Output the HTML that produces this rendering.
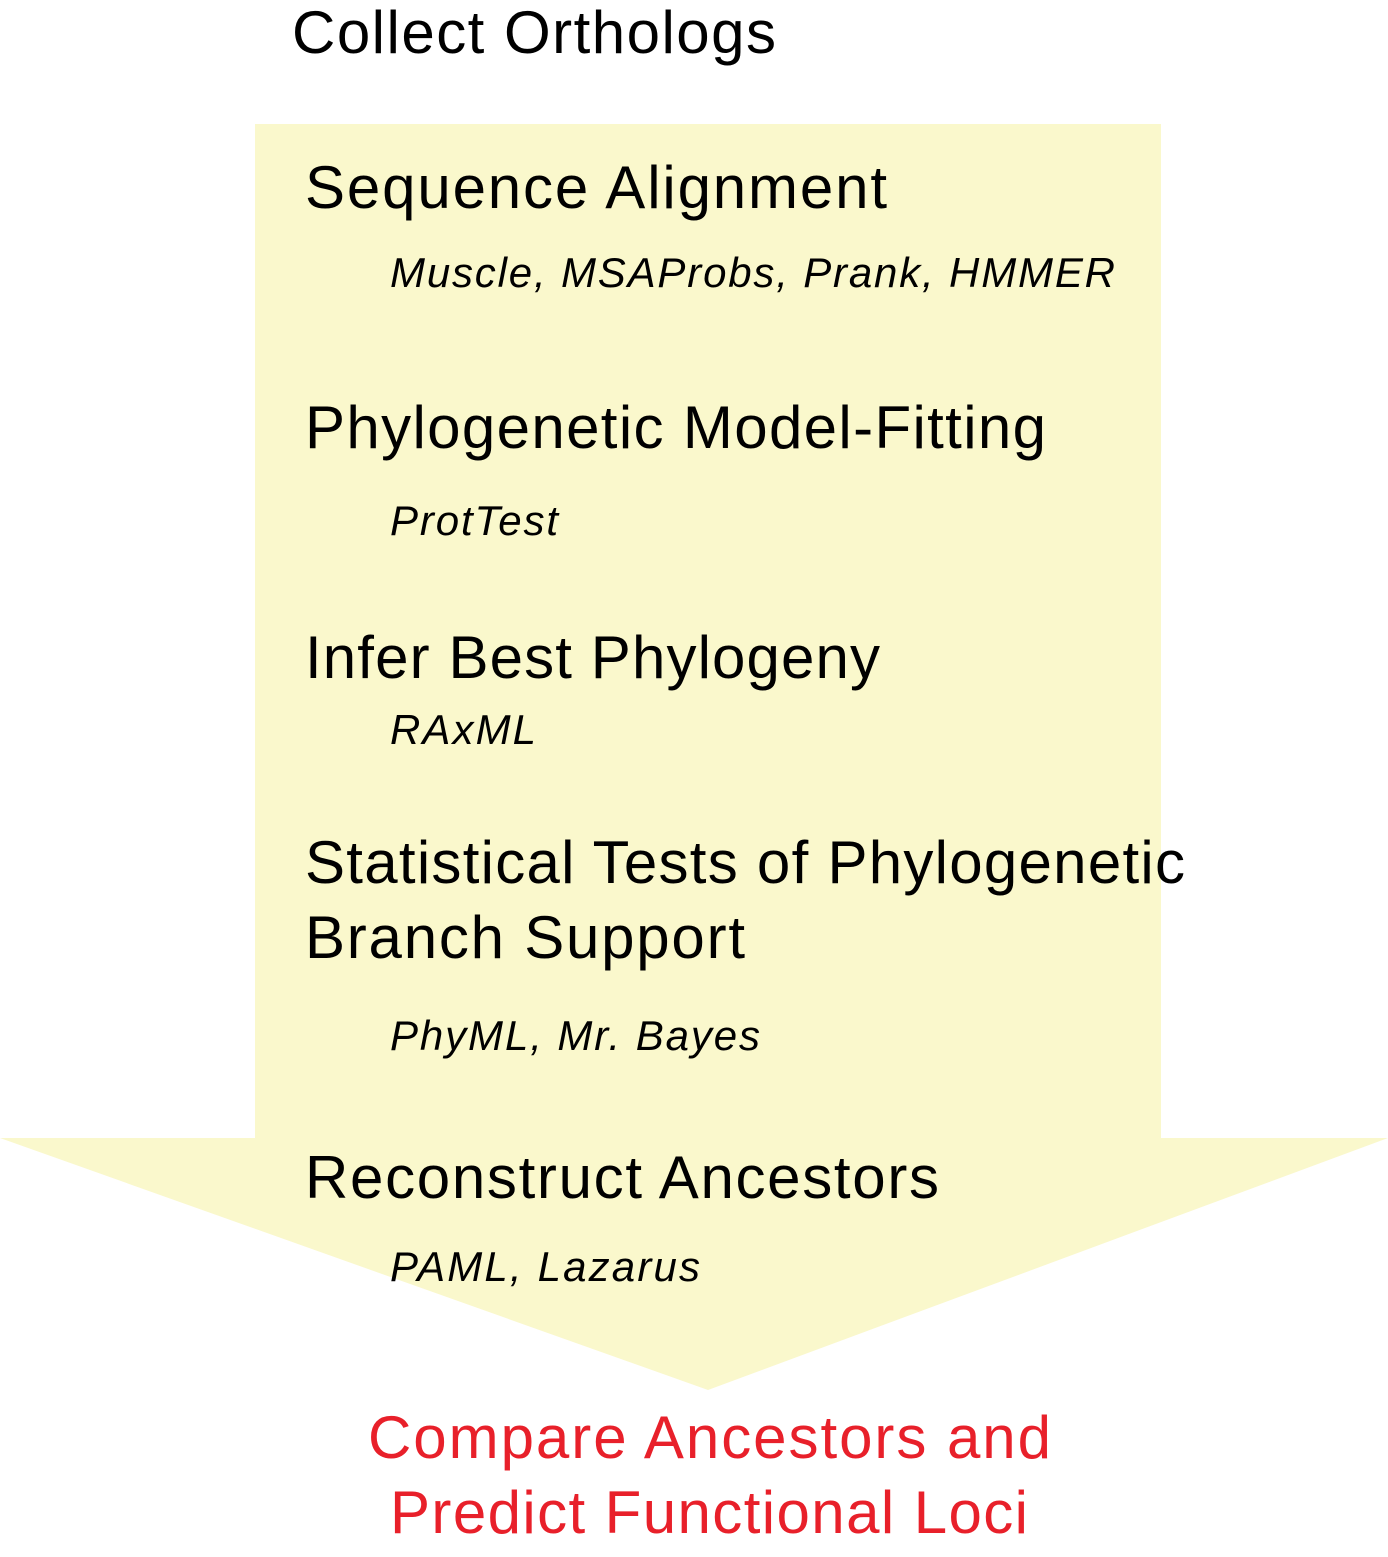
<!DOCTYPE html>
<html><head><meta charset="utf-8"><style>
html,body{margin:0;padding:0;background:#fff;}
svg{display:block;}
text{font-family:"Liberation Sans",sans-serif;}
.h{font-size:60px;fill:#000;}
.i{font-size:42px;font-style:italic;fill:#000;}
.r{font-size:60px;fill:#e8202a;}
</style></head><body>
<svg width="1388" height="1557" viewBox="0 0 1388 1557" xmlns="http://www.w3.org/2000/svg">
<polygon points="255,124 1161,124 1161,1138 1388,1138 708,1390 0,1138 255,1138" fill="#faf8cc"/>
<text class="h" x="292" y="53" textLength="484" lengthAdjust="spacing">Collect Orthologs</text>
<text class="h" x="305" y="208" textLength="582" lengthAdjust="spacing">Sequence Alignment</text>
<text class="i" x="390" y="287" textLength="725" lengthAdjust="spacing">Muscle, MSAProbs, Prank, HMMER</text>
<text class="h" x="305" y="448" textLength="741" lengthAdjust="spacing">Phylogenetic Model-Fitting</text>
<text class="i" x="390" y="535" textLength="168" lengthAdjust="spacing">ProtTest</text>
<text class="h" x="305" y="678" textLength="575" lengthAdjust="spacing">Infer Best Phylogeny</text>
<text class="i" x="390" y="744" textLength="146" lengthAdjust="spacing">RAxML</text>
<text class="h" x="305" y="883" textLength="880" lengthAdjust="spacing">Statistical Tests of Phylogenetic</text>
<text class="h" x="305" y="958" textLength="440" lengthAdjust="spacing">Branch Support</text>
<text class="i" x="390" y="1050" textLength="370" lengthAdjust="spacing">PhyML, Mr. Bayes</text>
<text class="h" x="305" y="1198" textLength="634" lengthAdjust="spacing">Reconstruct Ancestors</text>
<text class="i" x="390" y="1281" textLength="310" lengthAdjust="spacing">PAML, Lazarus</text>
<text class="r" x="368" y="1458" textLength="683" lengthAdjust="spacing">Compare Ancestors and</text>
<text class="r" x="390" y="1533" textLength="638" lengthAdjust="spacing">Predict Functional Loci</text>
</svg>
</body></html>
